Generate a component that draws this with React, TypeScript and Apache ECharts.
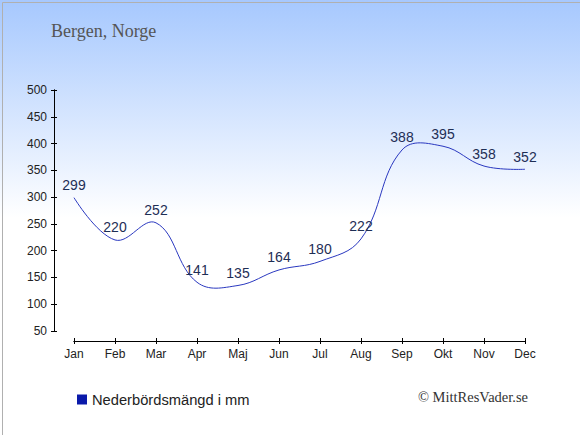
import React, { useEffect, useRef } from "react";
import * as echarts from "echarts";

const months = ["Jan", "Feb", "Mar", "Apr", "Maj", "Jun", "Jul", "Aug", "Sep", "Okt", "Nov", "Dec"];
const precipitation = [299, 220, 252, 141, 135, 164, 180, 222, 388, 395, 358, 352];
const seriesName = "Nederbördsmängd i mm";
const titleText = "Bergen, Norge";
const copyrightText = "© MittResVader.se";

export default function App() {
  const ref = useRef<HTMLDivElement>(null);
  useEffect(() => {
    if (!ref.current) return;
    const chart = echarts.init(ref.current, undefined, { renderer: "svg" });
    const yCommon = {
      type: "value",
      min: 50,
      max: 500,
      interval: 50,
      offset: 20,
      splitLine: { show: false },
      axisLine: { show: true, lineStyle: { color: "#000", width: 1 } },
    };
    const xCommon = {
      type: "category",
      data: months,
      boundaryGap: false,
      offset: 10,
      axisLine: { show: true, lineStyle: { color: "#000", width: 1 } },
      splitLine: { show: false },
    };
    chart.setOption({
      animation: false,
      backgroundColor: {
        type: "linear",
        x: 0,
        y: 0,
        x2: 0,
        y2: 1,
        colorStops: [
          { offset: 0, color: "#a6c8fe" },
          { offset: 0.5, color: "#ffffff" },
          { offset: 1, color: "#ffffff" },
        ],
      },
      title: {
        text: titleText,
        left: 46,
        top: 17,
        textStyle: { fontFamily: "Liberation Serif", fontSize: 18, fontWeight: "normal", color: "#555555" },
      },
      grid: { left: 74, right: 55, top: 90, bottom: 104, containLabel: false },
      xAxis: [
        {
          ...xCommon,
          axisTick: { show: true, inside: false, length: 3, lineStyle: { color: "#000" }, alignWithLabel: true },
          axisLabel: { margin: 7, fontFamily: "Liberation Sans", fontSize: 12, color: "#222" },
        },
        {
          ...xCommon,
          position: "bottom",
          axisTick: { show: true, inside: true, length: 3, lineStyle: { color: "#000" }, alignWithLabel: true },
          axisLabel: { show: false },
        },
      ],
      yAxis: [
        {
          ...yCommon,
          axisTick: { show: true, inside: false, length: 3, lineStyle: { color: "#000" } },
          axisLabel: { margin: 7, fontFamily: "Liberation Sans", fontSize: 12, color: "#222" },
        },
        {
          ...yCommon,
          position: "left",
          axisTick: { show: true, inside: true, length: 3, lineStyle: { color: "#000" } },
          axisLabel: { show: false },
        },
      ],
      legend: {
        left: 72,
        top: 387,
        icon: "rect",
        itemWidth: 10,
        itemHeight: 10,
        itemGap: 6,
        textStyle: { fontFamily: "Liberation Sans", fontSize: 14.7, color: "#222" },
        data: [{ name: seriesName, icon: "rect", itemStyle: { color: "#0a1aaa", opacity: 1 } }],
      },
      series: [
        {
          name: "curve",
          type: "custom",
          data: precipitation,
          silent: true,
          renderItem: (params: any, api: any) => {
            if (params.dataIndex !== 0) return null;
            const pts = precipitation.map((v, i) => api.coord([i, v]));
            return {
              type: "polyline",
              shape: { points: pts, smooth: 0.4 },
              style: { fill: "none", stroke: "#2a38c0", lineWidth: 1 },
            };
          },
        },
        {
          name: seriesName,
          type: "line",
          data: precipitation,
          showSymbol: true,
          symbol: "circle",
          symbolSize: 1,
          silent: true,
          lineStyle: { color: "rgba(0,0,0,0)", width: 0 },
          itemStyle: { color: "rgba(0,0,0,0)" },
          label: {
            show: true,
            position: "top",
            distance: 5,
            fontFamily: "Liberation Sans",
            fontSize: 14,
            color: "#1e2e55",
          },
        },
      ],
      graphic: [
        {
          type: "text",
          right: 52,
          top: 389,
          style: { text: copyrightText, fontFamily: "Liberation Serif", fontSize: 14.5, fill: "#333" },
        },
        {
          type: "rect",
          left: 0,
          top: 0,
          shape: { x: 0.5, y: 0.5, width: 579, height: 434 },
          style: { fill: "none", stroke: "#b0b0b0", lineWidth: 1 },
          silent: true,
        },
      ],
    });
    return () => chart.dispose();
  }, []);
  return (
    <div
      ref={ref}
      style={{ position: "fixed", left: 0, top: 0, width: 580, height: 435 }}
    />
  );
}
